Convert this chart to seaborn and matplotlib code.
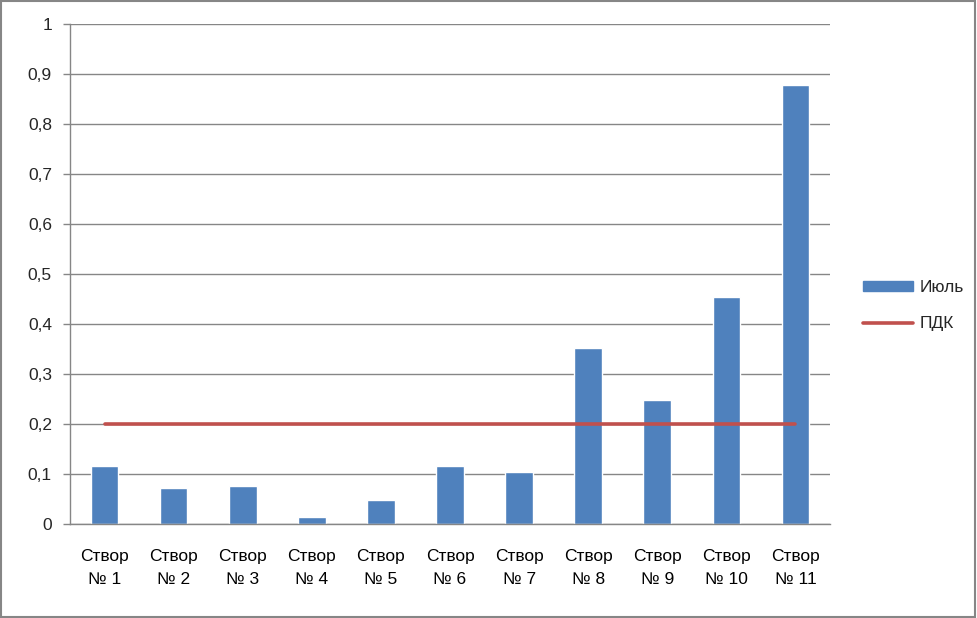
import numpy as np
import pandas as pd
import seaborn as sns
import matplotlib.pyplot as plt
from matplotlib.patches import Rectangle
from matplotlib.ticker import FuncFormatter

# данные
створы = ['Створ\n№ 1', 'Створ\n№ 2', 'Створ\n№ 3', 'Створ\n№ 4', 'Створ\n№ 5', 'Створ\n№ 6',
          'Створ\n№ 7', 'Створ\n№ 8', 'Створ\n№ 9', 'Створ\n№ 10', 'Створ\n№ 11']
июль = [0.115, 0.072, 0.076, 0.014, 0.048, 0.116, 0.104, 0.351, 0.247, 0.454, 0.877]
пдк = [0.2] * len(створы)

df = pd.DataFrame({'створ': створы, 'июль': июль, 'пдк': пдк})

sns.set_style('white')
plt.rcParams['font.family'] = ['Liberation Sans', 'DejaVu Sans']

fig = plt.figure(figsize=(9.77, 6.18), dpi=100)
ax = fig.add_axes([0.0717, 0.1521, 0.7778, 0.8091])

sns.barplot(data=df, x='створ', y='июль', color='#4F81BD', saturation=1,
            width=0.4, ax=ax)
ax.plot(np.arange(len(df)), df['пдк'], color='#C0504D', lw=2.6,
        solid_capstyle='round')

ax.set_ylim(0, 1)
ax.set_xlim(-0.5, len(df) - 0.5)
ax.set_yticks(np.arange(0, 1.01, 0.1))
ax.yaxis.set_major_formatter(FuncFormatter(lambda v, p: f'{v:.1f}'.replace('.', ',').replace(',0', '')))
ax.yaxis.grid(True, color='#868686', lw=1)
ax.set_axisbelow(True)

# деления на границах категорий
ax.set_xticks(np.arange(-0.5, len(df), 1), minor=True)
ax.tick_params(axis='x', which='major', length=0, pad=18, labelsize=12.5, colors='#000000')
ax.tick_params(axis='x', which='minor', length=5, color='#868686', width=1, direction='out')
ax.tick_params(axis='y', length=5, color='#868686', width=1, direction='out', pad=8,
               labelsize=12.5, left=True)
for t in ax.get_xticklabels():
    t.set_linespacing(1.65)
ax.set_xlabel('')
ax.set_ylabel('')

for s in ['top', 'right']:
    ax.spines[s].set_visible(False)
for s in ['left', 'bottom']:
    ax.spines[s].set_color('#868686')
    ax.spines[s].set_linewidth(1)

handles = [Rectangle((0, 0), 1, 1, color='#4F81BD'),
           plt.Line2D([], [], color='#C0504D', lw=2.6, solid_capstyle='round')]
fig.legend(handles, ['Июль', 'ПДК'], loc='center left', bbox_to_anchor=(0.867, 0.505),
           frameon=False, fontsize=12.5, handlelength=2.9, handleheight=0.5,
           labelspacing=1.2, handletextpad=0.4)

fig.patches.append(Rectangle((0.001, 0.002), 0.997, 0.996, transform=fig.transFigure,
                             fill=False, edgecolor='#868686', lw=1.5))

fig.savefig('out.png', dpi=100)
